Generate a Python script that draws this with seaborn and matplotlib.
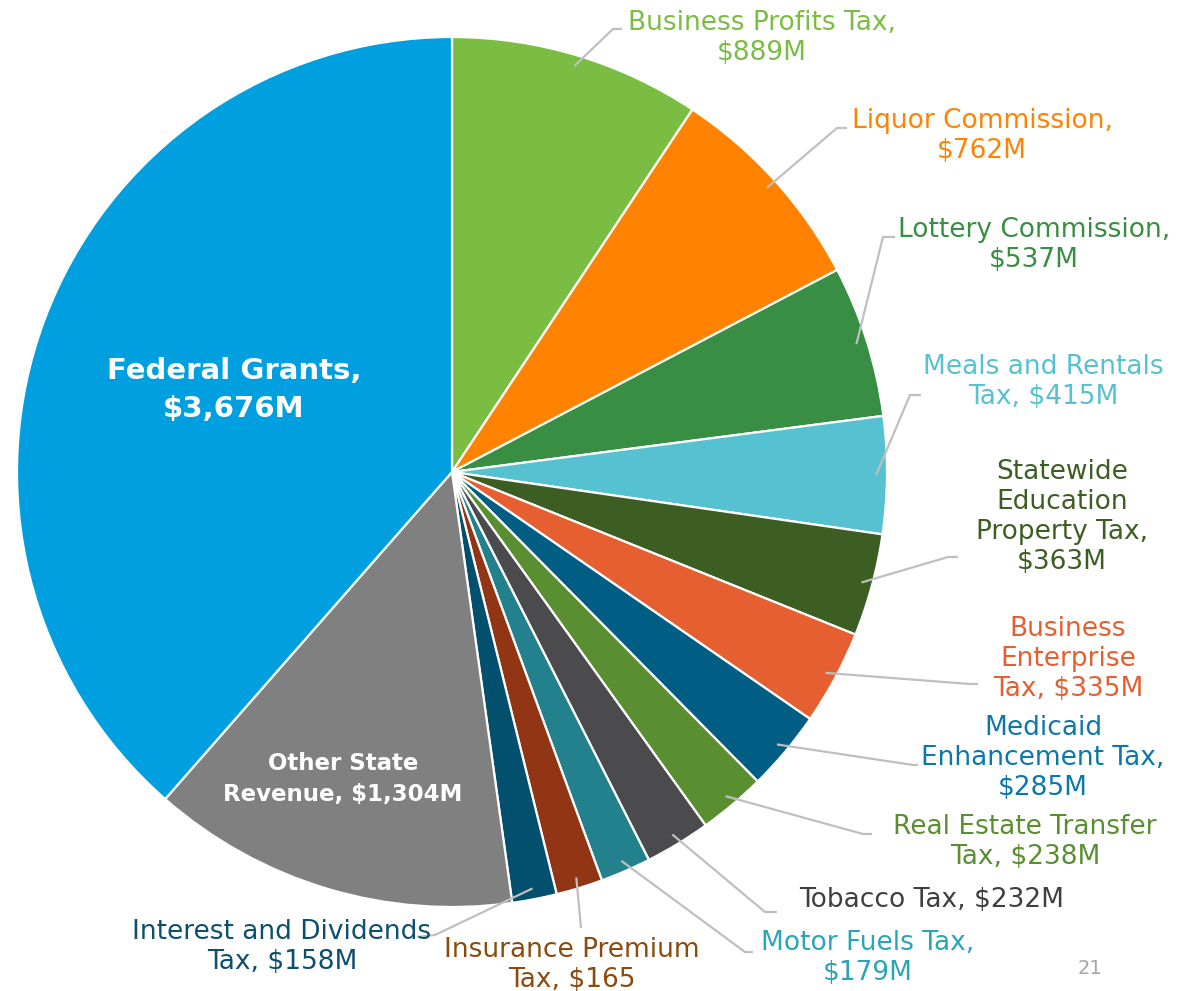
# State revenue sources pie chart (values in $M)

import numpy as np
import matplotlib.pyplot as plt
import seaborn as sns


# 1. Data ----------------------------------------------------------------------

sources = ['Business Profits Tax', 'Liquor Commission', 'Lottery Commission',
           'Meals and Rentals Tax', 'Statewide Education Property Tax',
           'Business Enterprise Tax', 'Medicaid Enhancement Tax',
           'Real Estate Transfer Tax', 'Tobacco Tax', 'Motor Fuels Tax',
           'Insurance Premium Tax', 'Interest and Dividends Tax',
           'Other State Revenue', 'Federal Grants']
revenue = [889, 762, 537, 415, 363, 335, 285, 238, 232, 179, 165, 158, 1304, 3676]

labels = ['Business Profits Tax,\n$889M',
          'Liquor Commission,\n$762M',
          'Lottery Commission,\n$537M',
          'Meals and Rentals\nTax, $415M',
          'Statewide\nEducation\nProperty Tax,\n$363M',
          'Business\nEnterprise\nTax, $335M',
          'Medicaid\nEnhancement Tax,\n$285M',
          'Real Estate Transfer\nTax, $238M',
          'Tobacco Tax, $232M',
          'Motor Fuels Tax,\n$179M',
          'Insurance Premium\nTax, $165',
          'Interest and Dividends\nTax, $158M',
          'Other State\nRevenue, $1,304M',
          'Federal Grants,\n$3,676M']

wedge_colors = ['#7BBD42', '#FF8200', '#388E43', '#56C1D0', '#3C5E23', '#E55F30',
                '#005E85', '#5A8F31', '#4B4B4D', '#23808D', '#923514', '#03506E',
                '#808080', '#009FDF']
text_colors = ['#7BBD42', '#FF8200', '#388E43', '#56C1D0', '#3C5E23', '#E55F30',
               '#0B78A8', '#5A8F31', '#3F3F3F', '#2AA5B5', '#8A4B0F', '#0D4F6E',
               'white', 'white']


# 2. Layout (pixel positions) --------------------------------------------------

W, H = 1186, 991
cx, cy, R = 452, 472, 435

# label centres
label_xy = [(762, 38), (982, 136), (1034, 245), (1043, 382), (1062, 517),
            (1068, 659), (1043, 758), (1025, 842), (932, 900), (868, 958),
            (572, 965), (282, 947), (343, 779), (234, 390)]

# leader line elbow and end points (None = label inside wedge)
leader = [[(613, 29), (622, 29)], [(837, 128), (847, 128)], [(883, 237), (895, 237)],
          [(910, 395), (921, 395)], [(948, 557), (958, 557)], [(970, 684), (978, 684)],
          [(913, 765), (918, 765)], [(863, 834), (872, 834)], [(765, 912), (777, 912)],
          [(745, 952), (753, 952)], [(581, 928)], [(435, 935), (417, 937)],
          None, None]


# 3. Plot ----------------------------------------------------------------------

sns.set_theme(style='white')
plt.rcParams['font.family'] = ['DejaVu Sans']

fig = plt.figure(figsize=(W / 100, H / 100), dpi=100)
ax = fig.add_axes([0, 0, 1, 1])

palette = sns.color_palette(wedge_colors)

# y axis is inverted below, so counterclock=True draws clockwise on screen
wedges, _ = ax.pie(revenue, colors=palette, startangle=-90, counterclock=True,
                   radius=R, center=(cx, cy),
                   wedgeprops=dict(edgecolor='white', linewidth=1.6))

ax.set_xlim(0, W)
ax.set_ylim(H, 0)
ax.set_aspect('equal')
ax.axis('off')

for i, w in enumerate(wedges):
    mid = np.deg2rad((w.theta1 + w.theta2) / 2)
    if leader[i] is not None:
        x0 = cx + 0.975 * R * np.cos(mid)
        y0 = cy + 0.975 * R * np.sin(mid)
        xs = [x0] + [p[0] for p in leader[i]]
        ys = [y0] + [p[1] for p in leader[i]]
        ax.plot(xs, ys, color='#BFBFBF', lw=1.6, solid_capstyle='butt', zorder=1)

    size, weight, spacing = 19, 'normal', 1.2
    if i == 13:
        size, weight, spacing = 21, 'bold', 1.45
    elif i == 12:
        size, weight, spacing = 16.5, 'bold', 1.4
    ax.text(label_xy[i][0], label_xy[i][1], labels[i], color=text_colors[i],
            fontsize=size, fontweight=weight, ha='center', va='center',
            multialignment='center', linespacing=spacing, zorder=3)

# page number
ax.text(1090, 968, '21', color='#A6A6A6', fontsize=14, ha='center', va='center')

fig.savefig('out.png', dpi=100)
